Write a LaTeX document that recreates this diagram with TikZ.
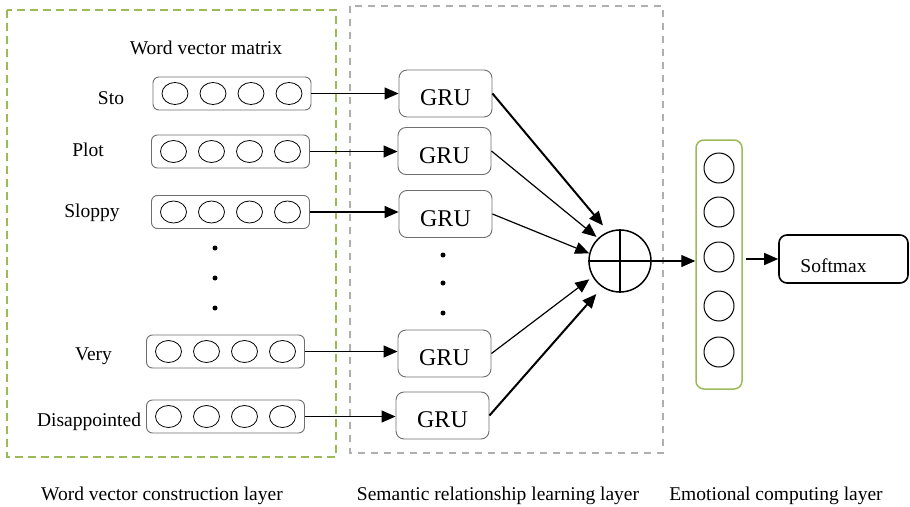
\documentclass[tikz,border=0pt]{standalone}
\usepackage{fontspec}
\setmainfont{Liberation Serif}
\usetikzlibrary{arrows.meta}
\definecolor{olivegreen}{RGB}{155,187,89}
\definecolor{dashgray}{RGB}{175,175,175}
\definecolor{boxgray}{RGB}{110,110,110}
\begin{document}
\begin{tikzpicture}[x=1pt,y=-1pt,
  lbl/.style={font=\fontsize{19.5}{22}\selectfont, inner sep=0pt, anchor=base},
  vecbox/.style={draw=boxgray, rounded corners=6pt, minimum width=158pt, minimum height=33pt, inner sep=0pt, line width=0.9pt},
  grubox/.style={draw=boxgray, rounded corners=8pt, minimum width=93pt, minimum height=47pt, inner sep=0pt, line width=0.9pt, font=\fontsize{24}{26}\selectfont, text height=24pt, text depth=0pt},
  arr/.style={-{Triangle[length=14pt,width=12pt]}, line width=1.4pt},
  arrthick/.style={-{Triangle[length=14pt,width=12pt]}, line width=2pt},
  arrthin/.style={-{Triangle[length=14pt,width=12pt]}, line width=1.2pt},
  dotmark/.style={fill=black, circle, inner sep=0pt, minimum size=5pt},
]
\useasboundingbox (0,0) rectangle (910,506);

% layer frames
\draw[olivegreen, line width=1.5pt, dash pattern=on 8pt off 5pt] (7,10) rectangle (336,457);
\draw[dashgray, line width=1.2pt, dash pattern=on 7pt off 6pt] (350,6) rectangle (663,453);

% word vector matrix
\node[lbl] (title) at (206,54) {Word vector matrix};

\node[vecbox] (r1) at (232,93.5) {};
\node[vecbox] (r2) at (230.5,151.5) {};
\node[vecbox] (r3) at (230.5,212) {};
\node[vecbox] (r4) at (225.5,351.5) {};
\node[vecbox] (r5) at (225.5,416.5) {};
\foreach \r in {r1,r2,r3,r4,r5}
  \foreach \dx in {-57,-19,19,57}
    \draw[line width=0.8pt] ([xshift=\dx pt]\r.center) ellipse [x radius=13pt, y radius=11pt];

\node[lbl] (w1) at (111,104) {Sto};
\node[lbl] (w2) at (88,156) {Plot};
\node[lbl] (w3) at (92,217) {Sloppy};
\node[lbl] (w4) at (93.5,360) {Very};
\node[lbl] (w5) at (89,426) {Disappointed};

\node[dotmark] (ld1) at (215,248) {};
\node[dotmark] (ld2) at (215,278) {};
\node[dotmark] (ld3) at (215,308) {};

% GRU layer
\node[grubox] (g1) at (445.5,93.5) {GRU};
\node[grubox] (g2) at (444.5,151) {GRU};
\node[grubox] (g3) at (445.5,214) {GRU};
\node[grubox] (g4) at (444.5,353.5) {GRU};
\node[grubox] (g5) at (442.5,415.5) {GRU};

\node[dotmark] (md1) at (443,255) {};
\node[dotmark] (md2) at (443,283) {};
\node[dotmark] (md3) at (443,313) {};

\draw[arr] (r1.east) -- (r1.east -| g1.west);
\draw[arr] (r2.east) -- (r2.east -| g2.west);
\draw[arr] (r3.east) -- (r3.east -| g3.west);
\draw[arr] (r4.east) -- (r4.east -| g4.west);
\draw[arr] (r5.east) -- (r5.east -| g5.west);

% combination
\node[circle, draw, line width=1.5pt, minimum size=62pt, inner sep=0pt] (plus) at (620,261) {};
\draw[line width=1.5pt] (plus.north) -- (plus.south) (plus.west) -- (plus.east);

\draw[arrthick, shorten >=8pt] (g1.east) -- (plus.112);
\draw[arrthin, shorten >=2pt] (g2.east) -- (plus.134);
\draw[arrthin] (g3.east) -- (plus.166);
\draw[arrthin, shorten >=4pt] (g4.east) -- (plus.210);
\draw[arrthick, shorten >=9pt] (g5.east) -- (plus.236);

% emotional computing layer
\node[draw=olivegreen, line width=1.5pt, rounded corners=8pt, minimum width=46pt, minimum height=249pt, inner sep=0pt] (col) at (719,264.5) {};
\foreach \yy in {168,212,257,306,352}
  \draw[line width=1pt] (719,\yy) circle [radius=15pt];

\node[draw, line width=1.6pt, rounded corners=8pt, minimum width=129pt, minimum height=48pt, inner sep=0pt, font=\fontsize{19.5}{22}\selectfont, text height=26pt, text depth=0pt] (soft) at (843.5,259) {Softmax\hspace*{20pt}};

\draw[arr] (plus.east) -- (plus.east -| col.west);
\draw[arr, shorten <=3pt] (soft.west -| col.east) -- (soft.west);

% layer captions
\node[lbl] (c1) at (162,500) {Word vector construction layer};
\node[lbl] (c2) at (498,500) {Semantic relationship learning layer};
\node[lbl] (c3) at (776,500) {Emotional computing layer};
\end{tikzpicture}
\end{document}
